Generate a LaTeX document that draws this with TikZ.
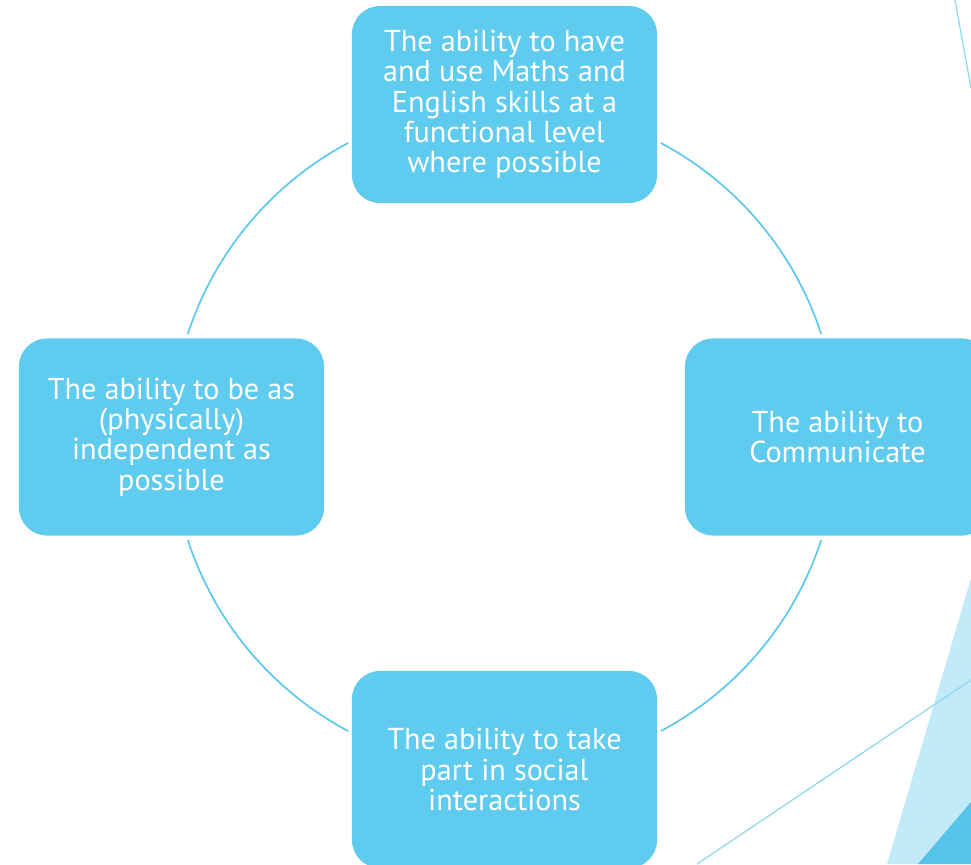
\documentclass[tikz,border=0pt]{standalone}
\usepackage{fontspec}
\setmainfont{PT Sans}
\begin{document}
\begin{tikzpicture}[x=0.025cm, y=-0.025cm,
  skill/.style={fill=skillblue, rounded corners=0.7cm, minimum width=7.625cm,
    minimum height=4.925cm, text=white, align=center,
    font=\fontsize{21.5}{21.6}\selectfont},
  ring/.style={draw=ringblue, line width=1.2pt}]
  % Define colors
  \definecolor{skillblue}{RGB}{95,203,238}
  \definecolor{ringblue}{RGB}{91,200,236}
  \definecolor{paleblue}{RGB}{194,234,248}
  \definecolor{deepblue}{RGB}{85,195,234}
  \definecolor{lineblue}{RGB}{143,216,242}

  % Page frame
  \useasboundingbox (0,0) rectangle (971,864);
  \clip (0,0) rectangle (971,864);

  % Corner decoration
  \fill[paleblue] (971,578) -- (887,864) -- (971,864) -- cycle;
  \fill[deepblue] (971,802) -- (918,864) -- (971,864) -- cycle;
  \draw[lineblue, line width=0.9pt] (697,864) -- (971,680);
  \draw[lineblue, line width=0.9pt] (955,0) -- (971,88);

  % Ring between the four boxes
  \coordinate (ring) at (504.5,437);
  \foreach \a in {18,118,198,298}
    \draw[ring] (ring) ++(\a:333) arc[start angle=\a, delta angle=44, radius=333];

  % Four skill boxes
  \node[skill] (maths) at (504.5,104.5) {The ability to have\\and use Maths and\\English skills at a\\functional level\\where possible};
  \node[skill] (communicate) at (837.5,437) {The ability to\\Communicate};
  \node[skill] (social) at (504.5,769.5) {The ability to take\\part in social\\interactions};
  \node[skill] (independent) at (171.5,437) {The ability to be as\\(physically)\\independent as\\possible};
\end{tikzpicture}
\end{document}
